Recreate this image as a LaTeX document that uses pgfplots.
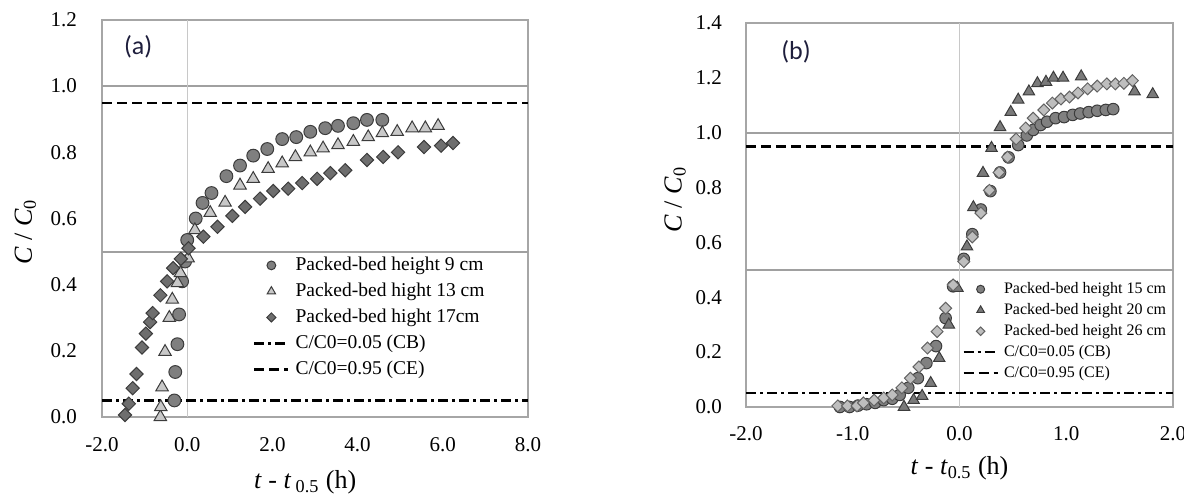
\documentclass[border=0pt]{standalone}
\usepackage{pgfplots}
\pgfplotsset{compat=1.18}
\usepackage{fontspec}
\setmainfont{Liberation Serif}
\newfontfamily\labfont{Carlito}
\definecolor{frame}{HTML}{A6A6A6}
\definecolor{hgrid}{HTML}{A0A0A0}
\definecolor{vgrid}{HTML}{C8C8C8}
\definecolor{mkedge}{HTML}{3C3C3C}
\definecolor{cA}{HTML}{7F7F7F}
\definecolor{tA}{HTML}{C8C8C8}
\definecolor{dA}{HTML}{6E6E6E}
\definecolor{cB}{HTML}{808080}
\definecolor{tB}{HTML}{7A7A7A}
\definecolor{dB}{HTML}{BEBEBE}
\definecolor{labc}{HTML}{1E1E3C}
\newcommand\lgA{\fontsize{9.75}{11}\selectfont}
\newcommand\lgB{\fontsize{8}{9.5}\selectfont}

\pgfplotstableread{
x y
-0.30 0.05
-0.28 0.136
-0.23 0.22
-0.19 0.31
-0.12 0.41
-0.05 0.47
0.00 0.535
0.20 0.60
0.36 0.647
0.57 0.677
0.92 0.728
1.24 0.76
1.55 0.79
1.88 0.81
2.23 0.84
2.56 0.846
2.89 0.862
3.24 0.873
3.54 0.88
3.90 0.888
4.22 0.898
4.58 0.898
}\aCirc
\pgfplotstableread{
x y
-0.63 0.0
-0.62 0.03
-0.59 0.09
-0.52 0.197
-0.42 0.30
-0.35 0.355
-0.23 0.405
-0.16 0.435
0.02 0.48
0.18 0.565
0.54 0.617
0.89 0.648
1.24 0.70
1.55 0.72
1.90 0.75
2.23 0.767
2.54 0.786
2.89 0.80
3.19 0.812
3.54 0.822
3.90 0.832
4.25 0.846
4.58 0.858
4.93 0.862
5.28 0.873
5.59 0.873
5.89 0.88
}\aTri
\pgfplotstableread{
x y
-1.46 0.006
-1.37 0.04
-1.28 0.087
-1.19 0.13
-1.06 0.21
-0.97 0.252
-0.87 0.287
-0.81 0.314
-0.63 0.368
-0.47 0.41
-0.33 0.45
-0.15 0.478
0.03 0.51
0.38 0.545
0.71 0.575
1.06 0.608
1.36 0.635
1.71 0.66
2.02 0.683
2.37 0.69
2.70 0.707
3.05 0.72
3.36 0.737
3.71 0.746
4.22 0.777
4.60 0.786
4.95 0.80
5.56 0.816
5.96 0.82
6.24 0.828
}\aDia
\pgfplotstableread{
x y
-1.12 0.0
-1.03 0.0
-0.95 0.005
-0.87 0.01
-0.79 0.015
-0.71 0.025
-0.63 0.03
-0.56 0.044
-0.48 0.07
-0.39 0.105
-0.31 0.16
-0.22 0.222
-0.13 0.324
-0.06 0.44
0.04 0.54
0.12 0.63
0.20 0.72
0.29 0.787
0.38 0.855
0.46 0.91
0.55 0.955
0.63 0.99
0.69 1.01
0.76 1.028
0.82 1.04
0.90 1.053
0.98 1.057
1.06 1.065
1.13 1.07
1.21 1.075
1.29 1.08
1.37 1.083
1.44 1.086
}\bCirc
\pgfplotstableread{
x y
-0.52 0.0
-0.43 0.025
-0.35 0.04
-0.27 0.087
-0.19 0.178
-0.10 0.30
-0.02 0.434
0.07 0.585
0.13 0.728
0.22 0.853
0.30 0.944
0.38 1.02
0.48 1.075
0.55 1.12
0.65 1.15
0.73 1.18
0.81 1.185
0.88 1.20
0.97 1.20
1.14 1.205
1.64 1.15
1.81 1.14
}\bTri
\pgfplotstableread{
x y
-1.14 0.004
-1.05 0.004
-0.96 0.004
-0.90 0.015
-0.80 0.025
-0.71 0.033
-0.63 0.044
-0.54 0.07
-0.46 0.105
-0.38 0.146
-0.30 0.215
-0.21 0.275
-0.13 0.36
-0.06 0.445
0.04 0.53
0.12 0.62
0.20 0.707
0.28 0.79
0.37 0.855
0.45 0.911
0.53 0.977
0.62 1.017
0.69 1.053
0.79 1.083
0.87 1.108
0.95 1.123
1.03 1.13
1.11 1.145
1.20 1.16
1.29 1.17
1.38 1.178
1.46 1.178
1.54 1.18
1.62 1.19
}\bDia

\pgfplotsset{
  myax/.style={
    scale only axis, anchor=south west,
    axis line style={draw=frame, line width=0.9pt},
    major tick length=0pt, tick style={draw=none},
    ticklabel style={font=\fontsize{10.5}{12}\selectfont},
    /pgf/number format/assume math mode=true,
    /pgf/number format/fixed,
    /pgf/number format/fixed zerofill,
    /pgf/number format/precision=1,
    clip=false,
    legend cell align=left,
  },
  dashCB/.style={black, line width=1.1pt, dash pattern=on 5pt off 2pt on 1.5pt off 2pt},
  dashCE/.style={black, line width=1.1pt, dash pattern=on 5pt off 2.5pt},
}

\begin{document}
\begin{tikzpicture}
\useasboundingbox (0,0) rectangle (592pt,250.5pt);

% Panel (a)
\begin{axis}[myax, at={(51pt,42pt)}, width=213pt, height=198.5pt,
  xmin=-2, xmax=8, ymin=0, ymax=1.2,
  xtick={-2,0,2,4,6,8}, ytick={0,0.2,0.4,0.6,0.8,1.0,1.2},
  yticklabel style={xshift=-9pt},
  xticklabel style={yshift=-6.5pt},
  xlabel={\textit{t} - \textit{t}\,\textsubscript{0.5} (h)},
  xlabel style={font=\fontsize{13}{15}\selectfont, at={(axis description cs:0.477,-0.164)}, anchor=center},
  ylabel={\textit{C} / \textit{C}\textsubscript{0}},
  ylabel style={font=\fontsize{13}{15}\selectfont, at={(axis description cs:-0.18,0.466)}, anchor=center},
  legend style={draw=none, fill=none, at={(0.354,0.4055)}, anchor=north west,
    font=\lgA, row sep=4pt, inner sep=0pt,
    nodes={inner ysep=0pt, inner xsep=3pt, text height=7pt, text depth=2pt}},
]
\addplot[forget plot, draw=hgrid, line width=1pt] coordinates {(-2,1) (8,1)};
\addplot[forget plot, draw=hgrid, line width=1pt] coordinates {(-2,0.5) (8,0.5)};
\addplot[forget plot, draw=vgrid, line width=0.6pt] coordinates {(0,0) (0,1.2)};
\addplot[only marks, mark=*, mark size=3.2pt, mark options={fill=cA, draw=mkedge, line width=0.5pt}, legend image post style={mark size=2.2pt}] table {\aCirc};
\addlegendentry{Packed-bed height 9 cm}
\addplot[only marks, mark=triangle*, mark size=3.6pt, mark options={fill=tA, draw=mkedge, line width=0.5pt}, legend image post style={mark size=2.4pt}] table {\aTri};
\addlegendentry{Packed-bed hight 13 cm}
\addplot[only marks, mark=square*, mark size=2.35pt, mark options={rotate=45, fill=dA, draw=mkedge, line width=0.5pt}, legend image post style={mark size=1.6pt}] table {\aDia};
\addlegendentry{Packed-bed hight 17cm}
\addplot[dashCB] coordinates {(-2,0.05) (8,0.05)};
\addlegendentry{C/C0=0.05 (CB)}
\addplot[dashCE] coordinates {(-2,0.95) (8,0.95)};
\addlegendentry{C/C0=0.95 (CE)}
\node[font=\labfont\fontsize{13}{15}\selectfont, text=labc] at (axis description cs:0.085,0.932) {(a)};
\end{axis}

% Panel (b)
\begin{axis}[myax, at={(373pt,47pt)}, width=213.5pt, height=192pt,
  xmin=-2, xmax=2, ymin=0, ymax=1.4,
  xtick={-2,-1,0,1,2}, ytick={0,0.2,0.4,0.6,0.8,1.0,1.2,1.4},
  yticklabel style={xshift=-8.5pt},
  xticklabel style={yshift=-6pt},
  xlabel={\textit{t} - \textit{t}\textsubscript{0.5} (h)},
  xlabel style={font=\fontsize{13}{15}\selectfont, at={(axis description cs:0.50,-0.159)}, anchor=center},
  ylabel={\textit{C} / \textit{C}\textsubscript{0}},
  ylabel style={font=\fontsize{13}{15}\selectfont, at={(axis description cs:-0.166,0.54)}, anchor=center},
  legend style={draw=none, fill=none, at={(0.506,0.328)}, anchor=north west,
    font=\lgB, row sep=2.7pt, inner sep=0pt,
    nodes={inner ysep=0pt, inner xsep=2.6pt, text height=6pt, text depth=1.8pt}},
]
\addplot[forget plot, draw=hgrid, line width=1pt] coordinates {(-2,1) (2,1)};
\addplot[forget plot, draw=hgrid, line width=1pt] coordinates {(-2,0.5) (2,0.5)};
\addplot[forget plot, draw=vgrid, line width=0.6pt] coordinates {(0,0) (0,1.4)};
\addplot[only marks, mark=*, mark size=2.9pt, mark options={fill=cB, draw=mkedge, line width=0.5pt}, legend image post style={mark size=2pt}] table {\bCirc};
\addlegendentry{Packed-bed height 15 cm}
\addplot[only marks, mark=triangle*, mark size=3.3pt, mark options={fill=tB, draw=mkedge, line width=0.5pt}, legend image post style={mark size=2.2pt}] table {\bTri};
\addlegendentry{Packed-bed height 20 cm}
\addplot[only marks, mark=square*, mark size=2.1pt, mark options={rotate=45, fill=dB, draw=mkedge!80, line width=0.5pt}, legend image post style={mark size=1.5pt}] table {\bDia};
\addlegendentry{Packed-bed height 26 cm}
\addplot[dashCB] coordinates {(-2,0.05) (2,0.05)};
\addlegendentry{C/C0=0.05 (CB)}
\addplot[dashCE] coordinates {(-2,0.95) (2,0.95)};
\addlegendentry{C/C0=0.95 (CE)}
\node[font=\labfont\fontsize{13}{15}\selectfont, text=labc] at (axis description cs:0.117,0.924) {(b)};
\end{axis}
\end{tikzpicture}
\end{document}
